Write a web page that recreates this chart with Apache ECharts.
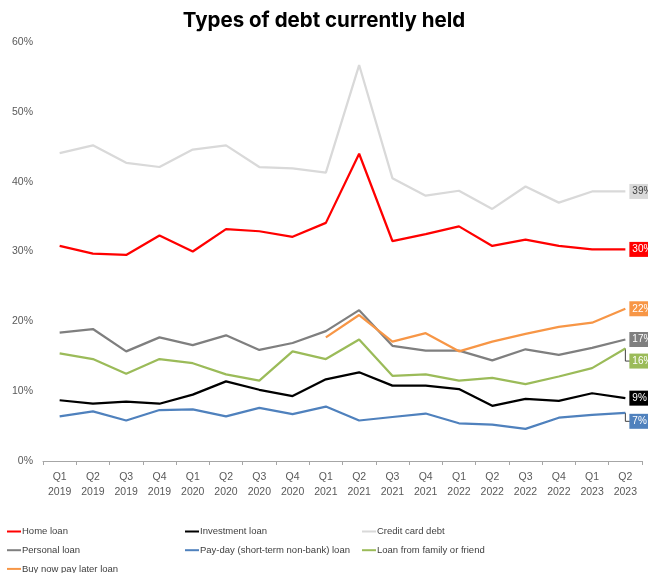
<!DOCTYPE html>
<html>
<head>
<meta charset="utf-8">
<script src="https://cdn.jsdelivr.net/npm/echarts@6/dist/echarts.min.js"></script>
<style>
  html, body { margin: 0; padding: 0; background: #ffffff; }
  #chart { width: 648px; height: 573px; }
</style>
</head>
<body>
<div id="chart"></div>
<script>
// Quarterly survey periods (x axis tick labels)
const categories = [
  'Q1\n2019', 'Q2\n2019', 'Q3\n2019', 'Q4\n2019',
  'Q1\n2020', 'Q2\n2020', 'Q3\n2020', 'Q4\n2020',
  'Q1\n2021', 'Q2\n2021', 'Q3\n2021', 'Q4\n2021',
  'Q1\n2022', 'Q2\n2022', 'Q3\n2022', 'Q4\n2022',
  'Q1\n2023', 'Q2\n2023'
];

// Share of respondents holding each type of debt (%)
const homeLoan       = [30.8, 29.7, 29.5, 32.3, 30.0, 33.2, 32.9, 32.1, 34.1, 44.0, 31.5, 32.5, 33.6, 30.8, 31.7, 30.8, 30.3, 30.3];
const investmentLoan = [8.7, 8.2, 8.5, 8.2, 9.5, 11.4, 10.2, 9.3, 11.7, 12.7, 10.8, 10.8, 10.3, 7.9, 8.9, 8.6, 9.7, 9.0];
const creditCardDebt = [44.1, 45.2, 42.7, 42.1, 44.6, 45.2, 42.1, 41.9, 41.3, 56.7, 40.5, 38.0, 38.7, 36.1, 39.3, 37.0, 38.6, 38.6];
const personalLoan   = [18.4, 18.9, 15.7, 17.7, 16.6, 18.0, 15.9, 16.9, 18.6, 21.6, 16.5, 15.8, 15.8, 14.4, 16.0, 15.2, 16.2, 17.4];
const paydayLoan     = [6.4, 7.1, 5.8, 7.3, 7.4, 6.4, 7.6, 6.7, 7.8, 5.8, 6.3, 6.8, 5.4, 5.2, 4.6, 6.2, 6.6, 6.9];
const familyLoan     = [15.4, 14.6, 12.5, 14.6, 14.0, 12.4, 11.5, 15.7, 14.6, 17.4, 12.2, 12.4, 11.5, 11.9, 11.0, 12.1, 13.3, 16.1];
const bnplLoan       = [null, null, null, null, null, null, null, null, 17.7, 20.9, 17.1, 18.3, 15.7, 17.1, 18.2, 19.2, 19.8, 21.8];

// Y axis range (%)
const yMin = 0, yMax = 60, yStep = 10;

const FONT = 'Liberation Sans';

function lineSeries(name, data, color, labelColor, labelShift) {
  return {
    name: name,
    type: 'line',
    data: data,
    color: color,
    symbol: 'none',
    showSymbol: false,
    connectNulls: false,
    lineStyle: { width: 2.25, color: color },
    emphasis: { disabled: true },
    endLabel: {
      show: true,
      formatter: function (p) { return Math.round(p.value) + '%'; },
      distance: 4,
      offset: [0, labelShift || 0],
      backgroundColor: color,
      color: labelColor,
      fontFamily: FONT,
      fontSize: 10,
      lineHeight: 11,
      padding: [2, 3, 2, 3]
    }
  };
}

// Elbow-shaped guide line from a series' last point down to its shifted end label
function leaderSeries(data, shift) {
  const last = data.length - 1;
  return {
    type: 'custom',
    silent: true,
    z: 1,
    data: [[last, data[last]]],
    encode: { x: 0, y: 1 },
    renderItem: function (params, api) {
      const p = api.coord([api.value(0), api.value(1)]);
      return {
        type: 'polyline',
        shape: { points: [[p[0], p[1]], [p[0], p[1] + shift], [p[0] + 5, p[1] + shift]] },
        style: { stroke: '#404040', lineWidth: 1, fill: null }
      };
    }
  };
}

const legendCommon = {
  orient: 'vertical',
  top: 525.5,
  height: 80,
  icon: 'rect',
  itemWidth: 14,
  itemHeight: 2,
  itemGap: 6.7,
  padding: 0,
  selectedMode: false,
  textStyle: { fontFamily: FONT, fontSize: 9.5, color: '#404040', lineHeight: 12, padding: [0, 0, 0, -4] }
};

const chart = echarts.init(document.getElementById('chart'), null, { renderer: 'canvas' });

chart.setOption({
  animation: false,
  backgroundColor: '#ffffff',
  textStyle: { fontFamily: FONT },
  title: {
    text: 'Types of debt currently held',
    left: 'center',
    top: 5,
    textStyle: { fontFamily: 'Inter', fontWeight: 700, fontSize: 20.5, color: '#000000' }
  },
  legend: [
    Object.assign({}, legendCommon, { left: 7,   data: ['Home loan', 'Personal loan', 'Buy now pay later loan'] }),
    Object.assign({}, legendCommon, { left: 185, data: ['Investment loan', 'Pay-day (short-term non-bank) loan'] }),
    Object.assign({}, legendCommon, { left: 362, data: ['Credit card debt', 'Loan from family or friend'] })
  ],
  grid: { left: 43, right: 6, top: 42, bottom: 112, containLabel: false },
  xAxis: {
    type: 'category',
    data: categories,
    boundaryGap: true,
    axisLine: { show: true, lineStyle: { color: '#a6a6a6', width: 1 } },
    axisTick: { show: true, length: 4, lineStyle: { color: '#a6a6a6' } },
    axisLabel: { interval: 0, margin: 9, fontSize: 10.5, lineHeight: 15, color: '#595959', fontFamily: FONT },
    splitLine: { show: false }
  },
  yAxis: {
    type: 'value',
    min: yMin,
    max: yMax,
    interval: yStep,
    axisLine: { show: false },
    axisTick: { show: false },
    splitLine: { show: false },
    axisLabel: { formatter: '{value}%', margin: 10, fontSize: 10.5, color: '#595959', fontFamily: FONT }
  },
  series: [
    lineSeries('Home loan', homeLoan, '#ff0000', '#ffffff'),
    lineSeries('Investment loan', investmentLoan, '#000000', '#ffffff'),
    lineSeries('Credit card debt', creditCardDebt, '#d9d9d9', '#404040'),
    lineSeries('Personal loan', personalLoan, '#7f7f7f', '#ffffff'),
    lineSeries('Pay-day (short-term non-bank) loan', paydayLoan, '#4f81bd', '#ffffff', 8.5),
    lineSeries('Loan from family or friend', familyLoan, '#9bbb59', '#ffffff', 12.5),
    lineSeries('Buy now pay later loan', bnplLoan, '#f79646', '#ffffff'),
    leaderSeries(paydayLoan, 8.5),
    leaderSeries(familyLoan, 12.5)
  ]
});
</script>
</body>
</html>
